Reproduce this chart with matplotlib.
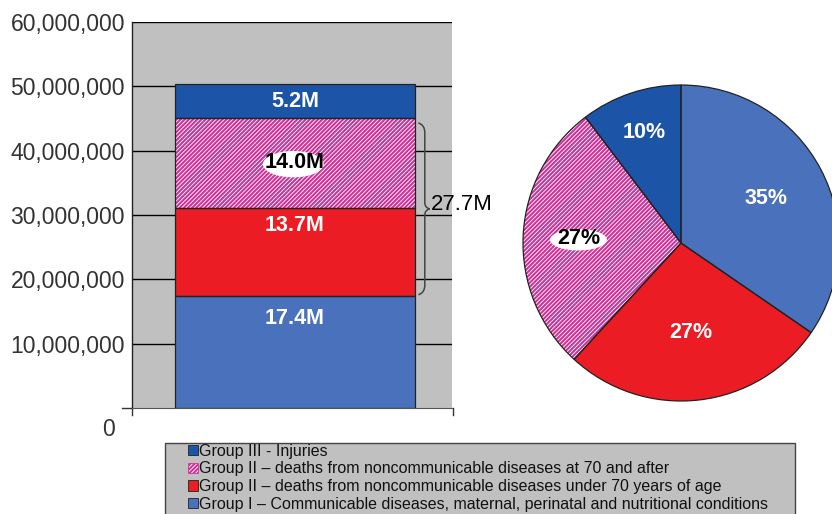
import matplotlib
matplotlib.use("Agg")
import matplotlib.pyplot as plt
from matplotlib.patches import Patch, Rectangle, PathPatch, Ellipse
from matplotlib.path import Path
from matplotlib.ticker import FuncFormatter
import numpy as np

plt.rcParams['font.family'] = ['Liberation Sans', 'DejaVu Sans']
plt.rcParams['hatch.linewidth'] = 1.5

# ---- data ----
groups = [
    "Group I \u2013 Communicable diseases, maternal, perinatal and nutritional conditions",
    "Group II \u2013 deaths from noncommunicable diseases under 70 years of age",
    "Group II \u2013 deaths from noncommunicable diseases at 70 and after",
    "Group III - Injuries",
]
values = [17.4e6, 13.7e6, 14.0e6, 5.2e6]
bar_labels = ["17.4M", "13.7M", "14.0M", "5.2M"]
pie_labels = ["35%", "27%", "27%", "10%"]
brace_label = "27.7M"
yticks = [0, 10e6, 20e6, 30e6, 40e6, 50e6, 60e6]

colors = ["#4a72bc", "#ec1c24", "#ffffff", "#1c55a8"]
hatch_color = "#cc3399"
hatches = ["", "", "////////", ""]
text_colors = ["white", "white", "black", "white"]
label_frac = [0.8, 0.8, 0.5, 0.5]
pie_dist = [0.61, 0.57, 0.65, 0.74]

W, H = 832, 514
fig = plt.figure(figsize=(W / 100, H / 100), dpi=100)
fig.patch.set_facecolor("white")

# ---- stacked bar ----
ax = fig.add_axes([132 / W, (H - 408) / H, 320 / W, 386 / H])
ax.set_facecolor("#c0c0c0")
ax.set_xlim(0, 1)
ax.set_ylim(0, 60e6)
for y in yticks[1:]:
    ax.axhline(y, color="black", lw=1.0, zorder=1)

bottoms = np.concatenate([[0], np.cumsum(values)[:-1]])
xc, bw = 0.509, 0.75
for v, b, c, h in zip(values, bottoms, colors, hatches):
    ax.bar(xc, v, bottom=b, width=bw, color=c, hatch=h,
           edgecolor=hatch_color if h else c, linewidth=0, zorder=2)
ax.bar(xc, values, bottom=bottoms, width=bw, facecolor="none",
       edgecolor="#222222", linewidth=0.9, zorder=3)

for v, b, lab, tc, fr in zip(values, bottoms, bar_labels, text_colors, label_frac):
    yl = b + v * fr
    if tc == "black":
        ax.add_patch(Ellipse((xc - 0.005, yl - 0.2e6), 0.19, 4.1e6,
                             fc="white", ec="none", zorder=3.5))
    ax.text(xc, yl, lab, ha="center", va="center", color=tc,
            fontsize=15.5, fontweight="bold", zorder=4)

# brace spanning the two Group II segments
y0 = bottoms[1] + 0.2e6
y1 = bottoms[2] + values[2] - 0.8e6
ym = (y0 + y1) / 2
xa, xb, xp = 0.895, 0.915, 0.93
verts = [(xa, y1), (xb, y1 - 0.3e6), (xb, y1 - 1.5e6),
         (xb, ym + 1.0e6), (xb, ym + 0.2e6), (xp, ym),
         (xb, ym - 0.2e6), (xb, ym - 1.0e6),
         (xb, y0 + 1.5e6), (xb, y0 + 0.3e6), (xa, y0)]
codes = [Path.MOVETO, Path.CURVE3, Path.CURVE3, Path.LINETO,
         Path.CURVE3, Path.CURVE3, Path.CURVE3, Path.CURVE3,
         Path.LINETO, Path.CURVE3, Path.CURVE3]
ax.add_patch(PathPatch(Path(verts, codes), fc="none", ec="#444444",
                       lw=1.1, zorder=5, clip_on=False))
ax.text(0.935, ym + 0.7e6, brace_label, ha="left", va="center",
        fontsize=16, color="black", zorder=5, clip_on=False)

ax.set_xticks([])
ax.set_yticks(yticks[1:])
ax.yaxis.set_major_formatter(FuncFormatter(lambda v, p: f"{int(v):,}"))
ax.tick_params(axis="y", length=0, pad=5, labelsize=16.5, labelcolor="#333333")
for s in ["top", "right"]:
    ax.spines[s].set_visible(False)
ax.spines["left"].set_color("#222222")
ax.spines["bottom"].set_color("#555555")
ax.spines["left"].set_linewidth(1.0)
ax.spines["bottom"].set_linewidth(0.8)
tr = ax.get_yaxis_transform()
ax.plot([-0.03, 0], [0, 0], color="#333333", lw=1, transform=tr, clip_on=False)
ax.plot([0, 0], [0, -1.1e6], color="#333333", lw=1, transform=tr, clip_on=False)
ax.plot([1.003, 1.003], [0, -1.1e6], color="#333333", lw=1, transform=tr, clip_on=False)
ax.text(-0.055, -3.4e6, "0", transform=tr, ha="right", va="center",
        fontsize=16.5, color="#333333", clip_on=False)

# ---- pie ----
pax = fig.add_axes([(681 - 158) / W, (H - 243 - 158) / H, 316 / W, 316 / H])
wedges, _ = pax.pie(values, colors=colors, startangle=90, counterclock=False,
                    hatch=hatches, wedgeprops=dict(linewidth=0))
for w, h, c in zip(wedges, hatches, colors):
    w.set_edgecolor(hatch_color if h else c)
    w.set_linewidth(0)
pax.pie(values, startangle=90, counterclock=False,
        wedgeprops=dict(fill=False, edgecolor="#222222", linewidth=0.9))
for w, lab, tc, d in zip(wedges, pie_labels, text_colors, pie_dist):
    ang = np.deg2rad((w.theta1 + w.theta2) / 2)
    px, py = d * np.cos(ang), d * np.sin(ang)
    if tc == "black":
        pax.add_patch(Ellipse((px, py - 0.01), 0.36, 0.135, fc="white",
                              ec="none", zorder=3))
    pax.text(px, py, lab, ha="center", va="center", color=tc,
             fontsize=15.5, fontweight="bold", zorder=4)
pax.set_xlim(-1, 1)
pax.set_ylim(-1, 1)
pax.set_aspect("auto")
pax.axis("off")

# ---- legend ----
fig.add_artist(Rectangle((165 / W, (H - 530) / H), 630 / W, 87 / H,
                         transform=fig.transFigure, fc="#c0c0c0",
                         ec="#444444", lw=1.0, zorder=0))
handles = [Patch(facecolor=c, hatch=h, edgecolor=hatch_color if h else "#222222",
                 linewidth=0.6) for c, h in zip(colors, hatches)]
leg = fig.legend(handles[::-1], groups[::-1], loc="upper left",
                 bbox_to_anchor=(186 / W, (H - 442) / H), frameon=False,
                 fontsize=11.5, handlelength=0.62, handleheight=0.62,
                 handletextpad=0.12, labelspacing=0.17, borderaxespad=0,
                 borderpad=0.1)
for t in leg.get_texts():
    t.set_color("#111111")

fig.savefig("out.png", dpi=100, facecolor="white")
